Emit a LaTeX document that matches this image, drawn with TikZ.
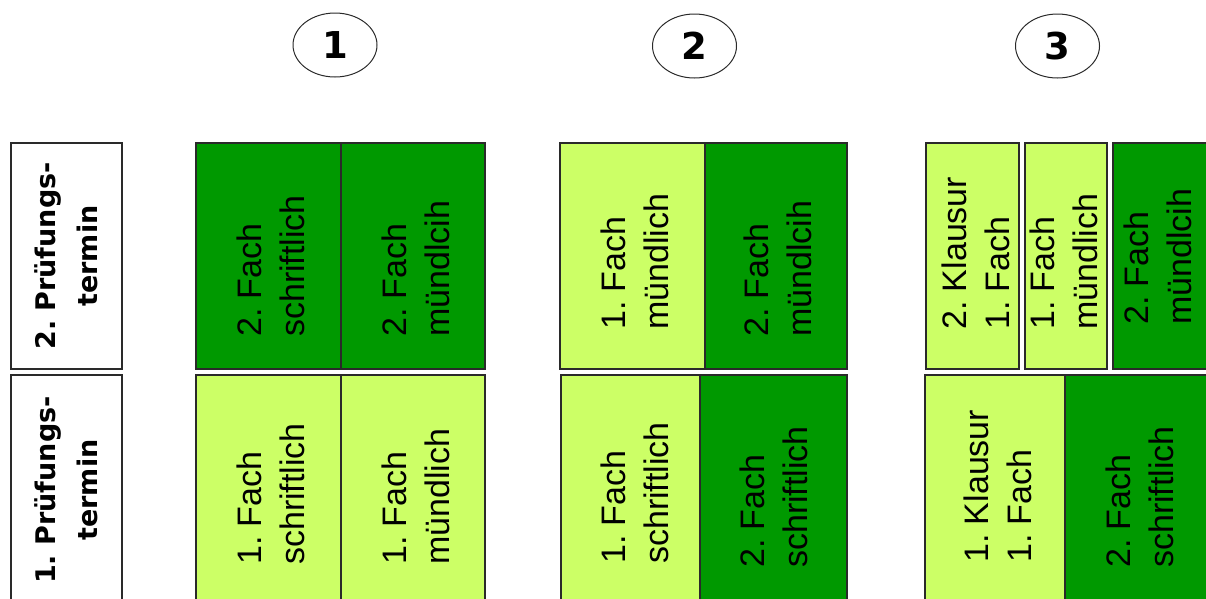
\documentclass[tikz,border=0pt]{standalone}
\usepackage{fontspec}
\setmainfont{Liberation Sans}
\newfontfamily\dvsans{DejaVu Sans}
\usetikzlibrary{shapes.geometric}
\definecolor{lightg}{HTML}{CCFF66}
\definecolor{darkg}{HTML}{009900}
\definecolor{framec}{HTML}{2A2A2A}
\frenchspacing
\begin{document}
\begin{tikzpicture}[x=1pt,y=-1pt,
  cell/.style={draw=framec, line width=1.3pt},
  lightcell/.style={cell, fill=lightg},
  darkcell/.style={cell, fill=darkg},
  labelbox/.style={cell, fill=white},
  celltext/.style={rotate=90, anchor=west, align=left, inner sep=0pt, text=black,
    font=\fontsize{34}{43}\selectfont},
  labeltext/.style={rotate=90, align=center, inner sep=0pt, text=black,
    font=\dvsans\bfseries\fontsize{27}{42}\selectfont},
  num/.style={ellipse, draw=framec, line width=1pt, minimum width=84pt, minimum height=64pt,
    inner sep=0pt, font=\dvsans\bfseries\fontsize{37}{37}\selectfont}
]
\useasboundingbox (0,0) rectangle (1206,598);
\begin{scope}
\clip (0,0) rectangle (1206,598);
% numbered ellipses
\node[num] (n1) at (335,45) {1};
\node[num] (n2) at (694.5,46) {2};
\node[num] (n3) at (1057.5,46) {3};
% row labels
\draw[labelbox] (11,143) rectangle (122,369);
\node[labeltext] (l2) at (66.5,256) {2. Prüfungs-\\termin};
\draw[labelbox] (11,375) rectangle (122,602);
\node[labeltext] (l1) at (66.5,490) {1. Prüfungs-\\termin};
% column 1
\draw[darkcell] (196,143) rectangle (341,369);
\draw[darkcell] (341,143) rectangle (485,369);
\draw[lightcell] (196,375) rectangle (341,602);
\draw[lightcell] (341,375) rectangle (485,602);
\node[celltext] (c1a) at (271,337) {2. Fach\\schriftlich};
\node[celltext] (c1b) at (416,337) {2. Fach\\mündlcih};
\node[celltext] (c1c) at (271,565) {1. Fach\\schriftlich};
\node[celltext] (c1d) at (416,565) {1. Fach\\mündlich};
% column 2
\draw[lightcell] (560,143) rectangle (705,369);
\draw[darkcell] (705,143) rectangle (847,369);
\draw[lightcell] (561,375) rectangle (700,602);
\draw[darkcell] (700,375) rectangle (847,602);
\node[celltext] (c2a) at (635,330) {1. Fach\\mündlich};
\node[celltext] (c2b) at (778,337) {2. Fach\\mündlcih};
\node[celltext] (c2c) at (635,564) {1. Fach\\schriftlich};
\node[celltext] (c2d) at (774,568) {2. Fach\\schriftlich};
% column 3
\draw[lightcell] (926,143) rectangle (1019,369);
\draw[lightcell] (1025,143) rectangle (1107,369);
\draw[darkcell] (1113,143) rectangle (1215,369);
\draw[lightcell] (925,375) rectangle (1065,602);
\draw[darkcell] (1065,375) rectangle (1215,602);
\node[celltext] (c3a) at (976,330) {2. Klausur\\1. Fach};
\node[celltext] (c3b) at (1063.5,330) {1. Fach\\mündlich};
\node[celltext] (c3c) at (1158,325) {2. Fach\\mündlcih};
\node[celltext] (c3d) at (998,563) {1. Klausur\\1. Fach};
\node[celltext] (c3e) at (1140,568) {2. Fach\\schriftlich};
\end{scope}
\end{tikzpicture}
\end{document}
